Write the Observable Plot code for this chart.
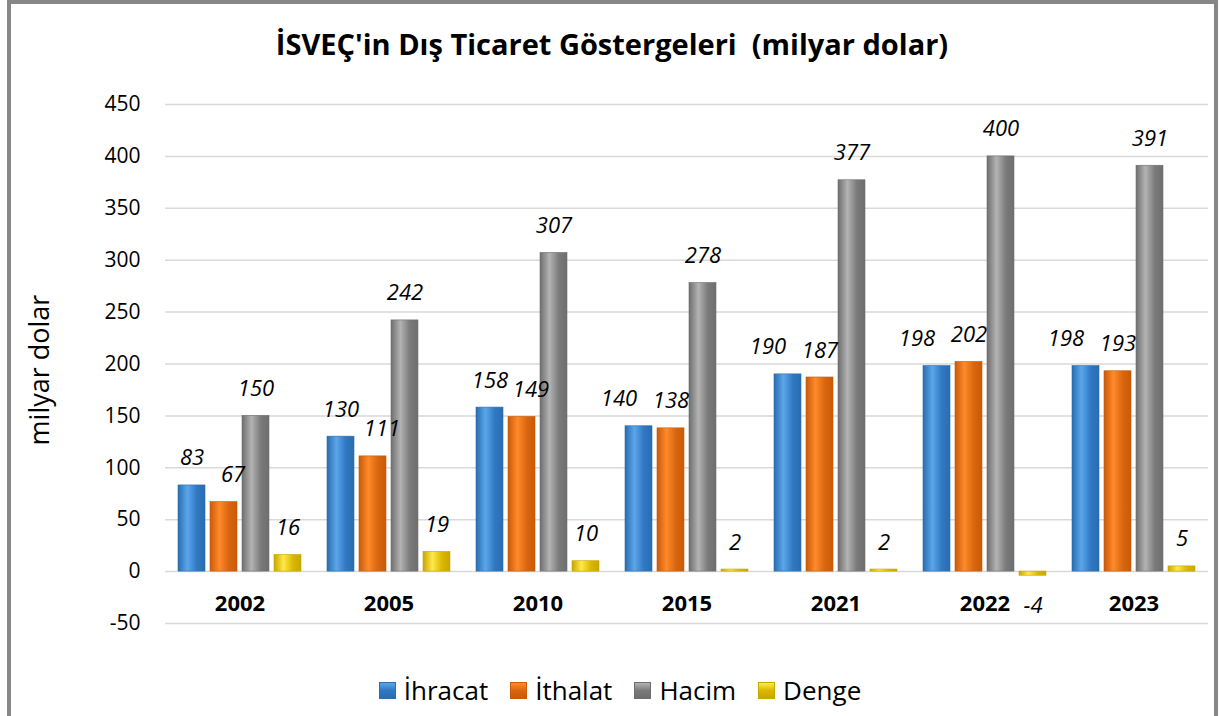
<!DOCTYPE html>
<html><head><meta charset="utf-8">
<script src="https://cdn.jsdelivr.net/npm/d3@7"></script>
<script src="https://cdn.jsdelivr.net/npm/@observablehq/plot@0.6"></script>
<style>
body{margin:0;background:#fff;width:1219px;height:716px;overflow:hidden;position:relative;font-family:"Open Sans",sans-serif;}
#frame{position:absolute;left:7px;top:0px;width:1211px;height:740px;border:4px solid #878787;box-sizing:border-box;}
#title{position:absolute;left:0;width:1224px;top:24px;text-align:center;font-weight:bold;font-size:29px;color:#000;white-space:pre;}
#ylab{position:absolute;left:38px;top:370px;transform:translate(-50%,-50%) rotate(-90deg);font-size:27px;white-space:nowrap;color:#000;}
#legend{position:absolute;left:0;width:1240px;top:672px;display:flex;justify-content:center;gap:22px;font-size:26px;color:#000;}
#legend .it{display:flex;align-items:center;gap:8px;}
#legend .sw{width:17px;height:17px;box-sizing:border-box;}
#chart{position:absolute;left:0;top:0;}
</style></head>
<body>
<div id="frame"></div>
<div id="chart"></div>
<div id="title">İSVEÇ'in Dış Ticaret Göstergeleri  (milyar dolar)</div>
<div id="ylab">milyar dolar</div>
<div id="legend"></div>
<script>
const years = ["2002","2005","2010","2015","2021","2022","2023"];
const series = ["İhracat","İthalat","Hacim","Denge"];
const ihracat = [83,130,158,140,190,198,198];
const ithalat = [67,111,149,138,187,202,193];
const hacim = [150,242,307,278,377,400,391];
const denge = [16,19,10,2,2,-4,5];
const yTicks = [-50,0,50,100,150,200,250,300,350,400,450];

const colors = {
  "İhracat": ["#2a6db0","#5ba6ea","#2f78c2"],
  "İthalat": ["#c95a08","#ff8a2a","#d9660f"],
  "Hacim":   ["#6e6e6e","#b3b3b3","#7a7a7a"],
  "Denge":   ["#c9a600","#ffe94a","#d9b800"]
};
const gid = s => "g" + series.indexOf(s);

const valuesBySeries = [ihracat, ithalat, hacim, denge];
const table = [];
years.forEach((y, i) => series.forEach((s, j) => {
  // label collision handling between the İhracat / İthalat labels (computed, like Excel's auto placement)
  const diff = Math.abs(ihracat[i] - ithalat[i]);
  let shift = "none";
  if (j === 0 && diff < 8) shift = "left";
  if (j === 1 && diff >= 8 && diff < 20) shift = "right";
  table.push({year: y, series: s, value: valuesBySeries[j][i], label: String(valuesBySeries[j][i]), shift});
}));

const barMarks = series.map(s => Plot.barY(table.filter(d => d.series === s), {
  fx: "year", x: "series", y: "value", fill: `url(#${gid(s)})`, stroke: colors[s][0], strokeWidth: 0.6
}));

const labelOpts = {fx: "year", x: "series", y: "value", text: "label", fontSize: 22, fontStyle: "italic", fill: "#000"};
const pos = table.filter(d => d.value >= 0);

const plot = Plot.plot({
  width: 1219, height: 716,
  marginLeft: 163, marginRight: 10, marginTop: 104, marginBottom: 93,
  style: {fontFamily: "'Open Sans', sans-serif", fontSize: "20px", color: "#000", background: "transparent", overflow: "visible"},
  fx: {domain: years, padding: 0, axis: null},
  x: {domain: series, paddingInner: 0.17, paddingOuter: 0.37, axis: null},
  y: {domain: [-50, 450], axis: null},
  marks: [
    Plot.gridY(yTicks, {stroke: "#d9d9d9", strokeOpacity: 1, strokeWidth: 1.5}),
    Plot.axisY(yTicks, {tickSize: 0, tickPadding: 25, fontSize: 21, label: null, tickFormat: d => String(d)}),
    ...barMarks,
    Plot.text(pos.filter(d => d.shift === "none"), {...labelOpts, dy: -27}),
    Plot.text(pos.filter(d => d.shift === "left"), {...labelOpts, dy: -27, dx: -20}),
    Plot.text(pos.filter(d => d.shift === "right"), {...labelOpts, dy: -27, dx: 9}),
    Plot.text(table.filter(d => d.value < 0), {...labelOpts, dy: 30}),
    Plot.axisFx({anchor: "bottom", tickSize: 0, tickPadding: 0, dy: -28, fontSize: 22, fontWeight: "bold", label: null})
  ]
});

const defs = d3.select(plot).insert("defs", ":first-child");
series.forEach(s => {
  const g = defs.append("linearGradient").attr("id", gid(s)).attr("x1", 0).attr("x2", 1).attr("y1", 0).attr("y2", 0);
  const c = colors[s];
  g.append("stop").attr("offset", "0%").attr("stop-color", c[0]);
  g.append("stop").attr("offset", "35%").attr("stop-color", c[1]);
  g.append("stop").attr("offset", "70%").attr("stop-color", c[2]);
  g.append("stop").attr("offset", "100%").attr("stop-color", c[0]);
});
document.getElementById("chart").appendChild(plot);

const leg = document.getElementById("legend");
series.forEach(s => {
  const c = colors[s];
  const it = document.createElement("div"); it.className = "it";
  const sw = document.createElement("div"); sw.className = "sw";
  sw.style.background = `linear-gradient(180deg, ${c[1]} 0%, ${c[2]} 50%, ${c[0]} 100%)`;
  sw.style.border = `1px solid ${c[0]}`;
  const tx = document.createElement("span"); tx.textContent = s;
  it.appendChild(sw); it.appendChild(tx); leg.appendChild(it);
});
</script>
</body></html>
